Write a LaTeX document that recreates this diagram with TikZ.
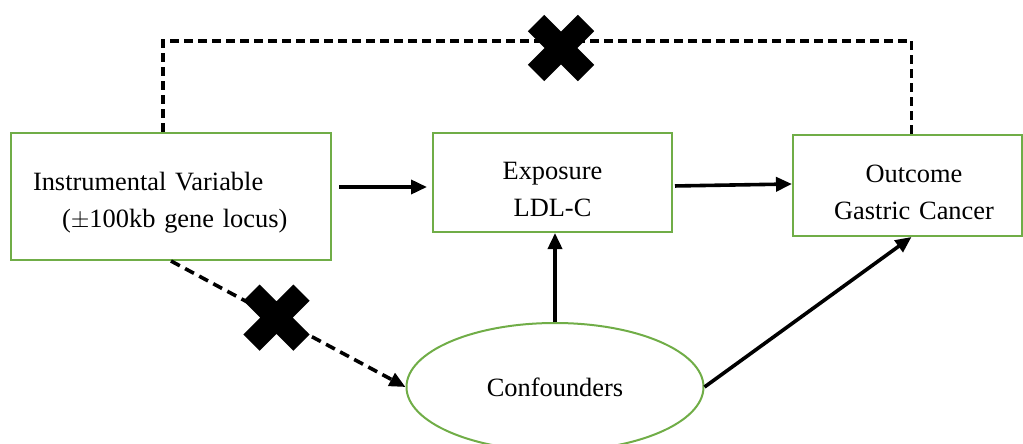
\documentclass[tikz,border=0pt]{standalone}
\usepackage{fontspec}
\setmainfont{Liberation Serif}
\usepackage{tikz}
\usetikzlibrary{shapes.geometric, arrows.meta, calc}
\usepackage{xcolor}
\definecolor{boxgreen}{RGB}{112,173,71}

\tikzset{
    box/.style={draw=boxgreen, line width=1pt, rectangle, inner sep=0pt,
        execute at begin node={\rule{0pt}{15.5pt}}},
    oval/.style={draw=boxgreen, line width=1pt, ellipse, inner sep=0pt},
    arr/.style={-{Triangle[length=8pt,width=7pt]}, line width=1.8pt},
    dasharr/.style={arr, dash pattern=on 5pt off 3pt},
    blockmark/.pic={\draw[solid, -, line width=11.5pt] (-25,-25) -- (25,25) (-25,25) -- (25,-25);}
}

\begin{document}
\begin{tikzpicture}[x=0.5pt, y=-0.5pt, font=\fontsize{13.2}{18.5}\selectfont]
    \useasboundingbox (0,0) rectangle (1023,444);

    \node[box, minimum width=160pt, minimum height=63.5pt, text width=138pt, inner xsep=11pt, align=left]
        (iv) at (171,196.5) {Instrumental Variable\\\hspace*{14.5pt}($\pm$100kb gene locus)};
    \node[box, minimum width=119.5pt, minimum height=49.5pt, text width=119.5pt, align=center]
        (exp) at (552.5,182.5) {Exposure\\LDL-C};
    \node[box, minimum width=114.5pt, minimum height=50.5pt, text width=114.5pt, align=center]
        (out) at (907.5,185.5) {\hspace*{6.5pt}Outcome\\\hspace*{6.5pt}Gastric Cancer};
    \node[oval, minimum width=148.5pt, minimum height=64pt] (conf) at (555,387) {Confounders};

    \draw[arr, shorten <=3.5pt, shorten >=2.5pt] ([yshift=4.75pt]iv.east) -- ([yshift=-2.25pt]exp.west);
    \draw[arr, shorten <=1pt] ([yshift=-1.75pt]exp.east) -- ([yshift=0.75pt]out.west);
    \draw[arr] (conf.north) -- (conf.north |- exp.south);
    \draw[arr] (conf.east) -- ([xshift=2pt]out.south);
    \draw[dasharr] (iv.south) -- (conf.west) pic[pos=0.45] {blockmark};

    \draw[line width=1.8pt, dash pattern=on 4.5pt off 2.5pt]
        ([xshift=-4pt]iv.north) -- ++(0,-91) -| ([xshift=2pt]out.north);
    \pic at (561,48) {blockmark};
\end{tikzpicture}
\end{document}
